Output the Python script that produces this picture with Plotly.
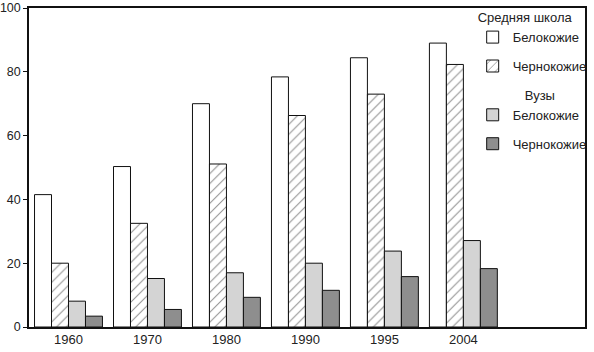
import plotly.graph_objects as go

years = ["1960", "1970", "1980", "1990", "1995", "2004"]
school_white = [41.5, 50.3, 70.0, 78.4, 84.4, 89.0]
school_black = [20.0, 32.5, 51.1, 66.3, 73.0, 82.3]
college_white = [8.1, 15.2, 17.0, 20.0, 23.8, 27.1]
college_black = [3.4, 5.5, 9.3, 11.5, 15.8, 18.3]

font = "Liberation Sans, Arial, sans-serif"
line = dict(color="#111111", width=1)
nb = "\u00a0"

fig = go.Figure()
fig.add_bar(x=years, y=school_white, name="Белокожие", legendgroup="s1",
            legendgrouptitle=dict(text="Средняя школа"),
            marker=dict(color="white", line=line))
fig.add_bar(x=years, y=school_black, name="Чернокожие", legendgroup="s2",
            marker=dict(color="white", line=line,
                        pattern=dict(shape="/", fgcolor="#222222", bgcolor="white",
                                     size=7, solidity=0.15)))
fig.add_bar(x=years, y=college_white, name="Белокожие", legendgroup="c1",
            legendgrouptitle=dict(text=nb * 13 + "Вузы"),
            marker=dict(color="#d4d4d4", line=line))
fig.add_bar(x=years, y=college_black, name="Чернокожие", legendgroup="c2",
            marker=dict(color="#8e8e8e", line=line))

fig.update_layout(
    width=594, height=352,
    margin=dict(l=29, r=2, t=8, b=25),
    paper_bgcolor="white", plot_bgcolor="white",
    barmode="group", bargap=0.14, bargroupgap=0,
    font=dict(family=font, size=13, color="#222222"),
    showlegend=True,
    legend=dict(x=1.012, xanchor="right", y=1.018, yanchor="top",
                bgcolor="rgba(0,0,0,0)", tracegroupgap=9,
                font=dict(size=13), groupclick="toggleitem", itemwidth=30,
                grouptitlefont=dict(size=13)),
)
fig.update_xaxes(type="category", range=[-0.5, 6.54], showline=True, linecolor="#111111",
                 linewidth=1.5, mirror=True, ticks="", showgrid=False,
                 automargin=False, tickfont=dict(size=13))
fig.update_yaxes(range=[0, 100], tickvals=[0, 20, 40, 60, 80, 100], showline=True,
                 linecolor="#111111", linewidth=1.5, mirror=True, ticks="outside",
                 ticklen=4, tickcolor="#111111", showgrid=False, zeroline=False,
                 automargin=False, ticklabeloverflow="allow", tickfont=dict(size=12.5))

fig.write_html("out.html")
